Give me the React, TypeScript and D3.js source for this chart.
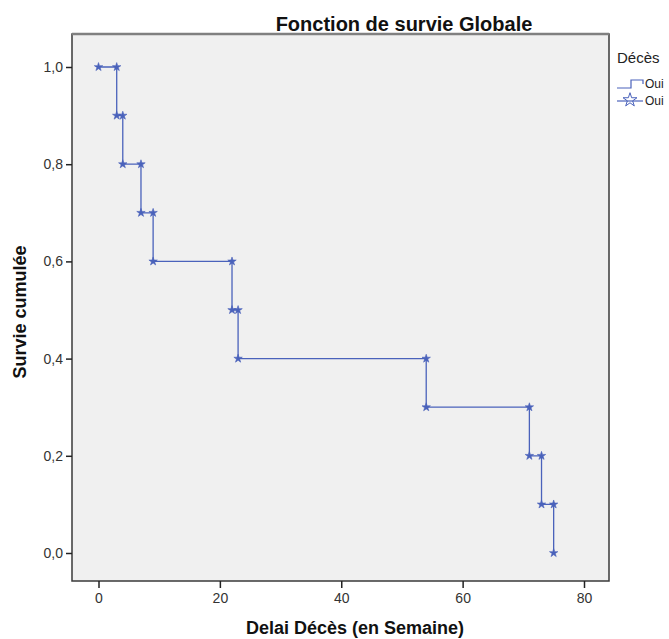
import React, { useEffect, useRef } from "react";
import * as d3 from "d3";

// event times (weeks) and survival after each event
const times = [0, 3, 4, 7, 9, 22, 23, 54, 71, 73, 75];
const survival = [1.0, 0.9, 0.8, 0.7, 0.6, 0.5, 0.4, 0.3, 0.2, 0.1, 0.0];
const xTicks = [0, 20, 40, 60, 80];
const yTicks = [0, 0.2, 0.4, 0.6, 0.8, 1.0];
const legendLabels = ["Oui", "Oui"];

const blue = "#4a62bb";

function App() {
  const ref = useRef<SVGSVGElement>(null);

  useEffect(() => {
    const svg = d3.select(ref.current);
    svg.selectAll("*").remove();

    const left = 72, right = 609, top = 34, bottom = 581;

    const x = d3.scaleLinear().domain([0, 80]).range([98.5, 584]);
    const y = d3.scaleLinear().domain([0, 1]).range([553, 67]);

    svg.append("rect")
      .attr("x", 0).attr("y", 0)
      .attr("width", 669).attr("height", 639)
      .attr("fill", "#ffffff");

    // plot frame
    svg.append("rect")
      .attr("x", left).attr("y", top)
      .attr("width", right - left).attr("height", bottom - top)
      .attr("fill", "#f0f0f0")
      .attr("stroke", "#3a3a3a")
      .attr("stroke-width", 1.5);

    svg.append("line")
      .attr("x1", left).attr("x2", right)
      .attr("y1", top).attr("y2", top)
      .attr("stroke", "#808080")
      .attr("stroke-width", 2.5);

    const font = "Arial, 'Liberation Sans', sans-serif";
    const fmt = (d: number) => d3.format(".1f")(d).replace(".", ",");

    // x axis
    const xAxis = svg.append("g")
      .attr("transform", `translate(0,${bottom})`)
      .call(d3.axisBottom(x).tickValues(xTicks).tickSize(7).tickSizeOuter(0).tickPadding(5));
    xAxis.select(".domain").remove();
    xAxis.selectAll("line").attr("stroke", "#222").attr("stroke-width", 1.5);
    xAxis.selectAll("text").attr("font-family", font).attr("font-size", 14).attr("fill", "#333");

    // y axis
    const yAxis = svg.append("g")
      .attr("transform", `translate(${left},0)`)
      .call(d3.axisLeft(y).tickValues(yTicks).tickFormat(fmt as any).tickSize(6).tickSizeOuter(0).tickPadding(3));
    yAxis.select(".domain").remove();
    yAxis.selectAll("line").attr("stroke", "#222").attr("stroke-width", 1.5);
    yAxis.selectAll("text").attr("font-family", font).attr("font-size", 14).attr("fill", "#333");

    // titles
    svg.append("text")
      .attr("x", 404).attr("y", 31)
      .attr("text-anchor", "middle")
      .attr("font-family", font).attr("font-size", 20).attr("font-weight", "bold")
      .attr("fill", "#111")
      .text("Fonction de survie Globale");

    svg.append("text")
      .attr("x", 355).attr("y", 634)
      .attr("text-anchor", "middle")
      .attr("font-family", font).attr("font-size", 18).attr("font-weight", "bold")
      .attr("fill", "#111")
      .text("Delai Décès (en Semaine)");

    svg.append("text")
      .attr("transform", `translate(26,312) rotate(-90)`)
      .attr("text-anchor", "middle")
      .attr("font-family", font).attr("font-size", 18).attr("font-weight", "bold")
      .attr("fill", "#111")
      .text("Survie cumulée");

    // survival step line
    const data = times.map((t, i) => ({ t, s: survival[i] }));
    const line = d3.line<{ t: number; s: number }>()
      .x(d => x(d.t))
      .y(d => y(d.s))
      .curve(d3.curveStepAfter);

    svg.append("path")
      .datum(data)
      .attr("d", line)
      .attr("fill", "none")
      .attr("stroke", blue)
      .attr("stroke-width", 1.3);

    // markers at every step corner
    const corners: { t: number; s: number }[] = [];
    data.forEach((d, i) => {
      if (i > 0) corners.push({ t: d.t, s: data[i - 1].s });
      corners.push(d);
    });

    const star = d3.symbol().type(d3.symbolStar).size(22);
    svg.append("g")
      .selectAll("path")
      .data(corners)
      .enter()
      .append("path")
      .attr("transform", d => `translate(${x(d.t)},${y(d.s)})`)
      .attr("d", star as any)
      .attr("fill", blue)
      .attr("stroke", blue)
      .attr("stroke-width", 0.6);

    // legend
    svg.append("text")
      .attr("x", 617).attr("y", 63)
      .attr("font-family", font).attr("font-size", 15)
      .attr("fill", "#222")
      .text("Décès");

    const lg = svg.append("g");
    lg.append("path")
      .attr("d", d3.line()([[617, 88], [631, 88], [631, 80], [643, 80], [643, 84]]))
      .attr("fill", "none")
      .attr("stroke", blue)
      .attr("stroke-width", 1.2);
    lg.append("line")
      .attr("x1", 617).attr("x2", 643)
      .attr("y1", 101).attr("y2", 101)
      .attr("stroke", blue).attr("stroke-width", 1.2);
    lg.append("path")
      .attr("transform", "translate(630,100)")
      .attr("d", d3.symbol().type(d3.symbolStar).size(60) as any)
      .attr("fill", "none")
      .attr("stroke", blue)
      .attr("stroke-width", 1);

    lg.selectAll("text.lab")
      .data(legendLabels)
      .enter()
      .append("text")
      .attr("class", "lab")
      .attr("x", 645)
      .attr("y", (d, i) => 88 + i * 17)
      .attr("font-family", font).attr("font-size", 12)
      .attr("fill", "#222")
      .text(d => d);
  }, []);

  return (
    <svg
      ref={ref}
      width={669}
      height={639}
      style={{ position: "absolute", left: 0, top: 0 }}
    />
  );
}

export default App;
